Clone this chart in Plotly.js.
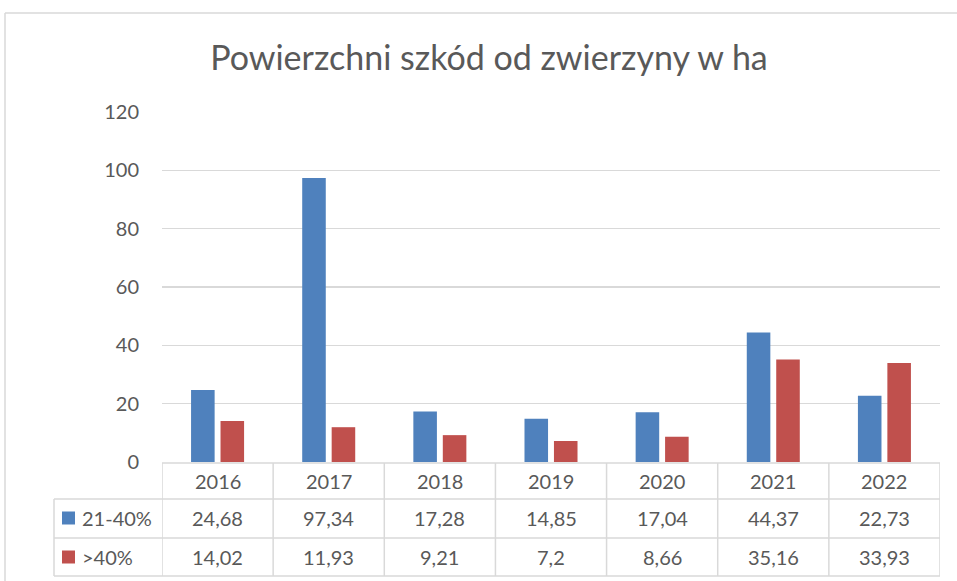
<!DOCTYPE html>
<html><head><meta charset="utf-8">
<script src="https://cdn.plot.ly/plotly-3.0.1.min.js"></script>
<style>html,body{margin:0;padding:0;background:#fff}#chart{width:957px;height:581px}</style>
</head><body><div id="chart"></div>
<script>
const categories = ['2016','2017','2018','2019','2020','2021','2022'];
const seriesNames = ['21-40%','>40%'];
const values2140 = [24.68,97.34,17.28,14.85,17.04,44.37,22.73];
const valuesOver40 = [14.02,11.93,9.21,7.2,8.66,35.16,33.93];
const yTicks = [0,20,40,60,80,100,120];
const titleText = 'Powierzchni szkód od zwierzyny w ha';

const W = 957, H = 581;
const L = 162, R = 940, T = 112, B = 462;
const colors = ['#4F81BD','#C0504D'];
const txt = '#595959', grid = '#D9D9D9';
const font = 'Lato, "Open Sans", sans-serif';
const fs = 20;

const px = p => (p - L) / (R - L);
const py = p => (B - p) / (B - T);
const fmt = v => String(v).replace('.', ',');

const idx = categories.map((c,i)=>i);
const traces = [
  {type:'bar', x: idx, y: values2140, name: seriesNames[0], marker:{color:colors[0]}, hoverinfo:'none'},
  {type:'bar', x: idx, y: valuesOver40, name: seriesNames[1], marker:{color:colors[1]}, hoverinfo:'none'}
];

const shapes = [];
const annotations = [];
const lineStyle = {color: grid, width: 1.5};
// chart border
shapes.push({type:'line', xref:'paper', yref:'paper', x0:px(5), x1:px(960), y0:py(13), y1:py(13), line:{color:grid, width:1.5}});
shapes.push({type:'line', xref:'paper', yref:'paper', x0:px(5), x1:px(5), y0:py(13), y1:py(590), line:{color:grid, width:1.5}});
// table horizontal lines
shapes.push({type:'line', xref:'paper', yref:'paper', x0:0, x1:1, y0:py(463), y1:py(463), line:lineStyle});
[499,538,576].forEach(y=>shapes.push({type:'line', xref:'paper', yref:'paper', x0:px(54), x1:1, y0:py(y), y1:py(y), line:lineStyle}));
// table vertical lines
shapes.push({type:'line', xref:'paper', yref:'paper', x0:px(54), x1:px(54), y0:py(499), y1:py(576), line:lineStyle});
for (let i = 0; i <= categories.length; i++) {
  shapes.push({type:'line', xref:'x', yref:'paper', x0:i-0.5, x1:i-0.5, y0:py(463), y1:py(576), line:lineStyle});
}
// legend keys
const rowY = [518, 557];
seriesNames.forEach((n,k)=>{
  shapes.push({type:'rect', xref:'paper', yref:'paper', x0:px(62), x1:px(75), y0:py(rowY[k]-6.5), y1:py(rowY[k]+6.5), fillcolor:colors[k], line:{width:0}});
  annotations.push({xref:'paper', yref:'paper', x:px(80), y:py(rowY[k]), xanchor:'left', yanchor:'middle', text:n, showarrow:false, font:{family:font, size:fs, color:txt}});
});
// year row + values
categories.forEach((c,i)=>{
  annotations.push({xref:'x', yref:'paper', x:i, y:py(481), xanchor:'center', yanchor:'middle', text:c, showarrow:false, font:{family:font, size:fs, color:txt}});
  annotations.push({xref:'x', yref:'paper', x:i, y:py(rowY[0]), xanchor:'center', yanchor:'middle', text:fmt(values2140[i]), showarrow:false, font:{family:font, size:fs, color:txt}});
  annotations.push({xref:'x', yref:'paper', x:i, y:py(rowY[1]), xanchor:'center', yanchor:'middle', text:fmt(valuesOver40[i]), showarrow:false, font:{family:font, size:fs, color:txt}});
});

const layout = {
  width: W, height: H,
  margin: {l: L, r: W - R, t: T, b: H - B, pad: 0},
  paper_bgcolor: '#fff', plot_bgcolor: '#fff',
  showlegend: false,
  barmode: 'group', bargap: 0.47, bargroupgap: 0.2,
  title: {text: titleText, xref:'container', x: 489/W, xanchor:'center', yref:'container', y: 1 - 58/H, yanchor:'middle', font:{family: font, size: 34, color: txt}},
  xaxis: {range:[-0.5, categories.length - 0.5], showticklabels:false, showgrid:false, zeroline:false, showline:false, ticks:'', fixedrange:true},
  yaxis: {range:[0,120], tickvals: yTicks, ticktext: yTicks.map(String), showgrid:true, gridcolor: grid, gridwidth:1.5, zeroline:false, showline:false, ticks:'', ticklabelstandoff: 22, tickfont:{family:font, size:fs, color:txt}, fixedrange:true},
  shapes, annotations
};
Plotly.newPlot('chart', traces, layout, {displayModeBar:false, staticPlot:true});
</script></body></html>
